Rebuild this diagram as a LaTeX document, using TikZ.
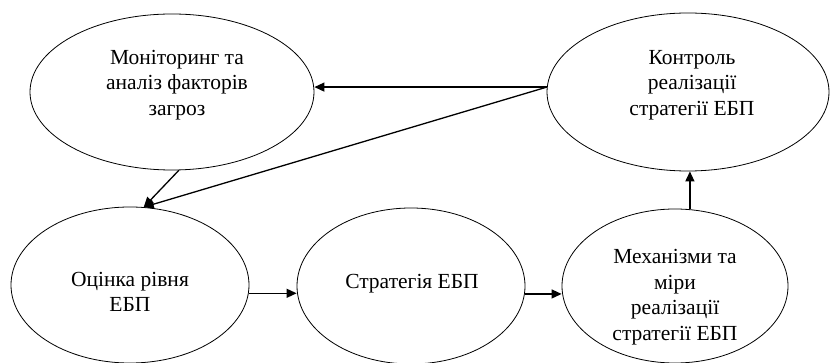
\documentclass[tikz,border=0pt]{standalone}
\usepackage{fontspec}
\setmainfont{Liberation Serif}
\usetikzlibrary{shapes.geometric,arrows.meta}
\begin{document}
\begin{tikzpicture}[x=1pt,y=-1pt,
  oval/.style={draw,ellipse,line width=0.8pt,inner sep=0pt},
  lbl/.style={align=center,font=\fontsize{21.5}{25.5}\selectfont,inner sep=0pt},
  arr/.style={line width=1.3pt,-{Triangle[length=10pt,width=9pt]}}]
\useasboundingbox (0,0) rectangle (830,363);
\node[oval,minimum width=284pt,minimum height=156pt] (mon) at (172,92) {};
\node[oval,minimum width=282pt,minimum height=158pt] (kon) at (688,92) {};
\node[oval,minimum width=238pt,minimum height=156pt] (ocin) at (130,285) {};
\node[oval,minimum width=228pt,minimum height=156pt] (strat) at (411,286) {};
\node[oval,minimum width=226pt,minimum height=154pt] (mech) at (675,286) {};
\node[lbl] (monT) at (177,85) {Моніторинг та\\аналіз факторів\\загроз};
\node[lbl] (konT) at (692,85) {Контроль\\реалізації\\стратегії ЕБП};
\node[lbl] (ocinT) at (130,292) {Оцінка рівня\\ЕБП};
\node[lbl] (stratT) at (412,284) {Стратегія ЕБП};
\node[lbl] (mechT) at (675,297) {Механізми та\\міри\\реалізації\\стратегії ЕБП};
\draw[arr] (kon.178) -- (kon.178 -| mon.east);
\draw[arr] (kon.178) -- (ocin.80);
\draw[arr] (mon.275) -- (ocin.80);
\draw[arr] (ocin.-4) -- (ocin.-4 -| strat.west);
\draw[arr] (strat.-4) -- (strat.-4 -| mech.west);
\draw[arr] (mech.79) -- (mech.79 |- kon.south);
\end{tikzpicture}
\end{document}
